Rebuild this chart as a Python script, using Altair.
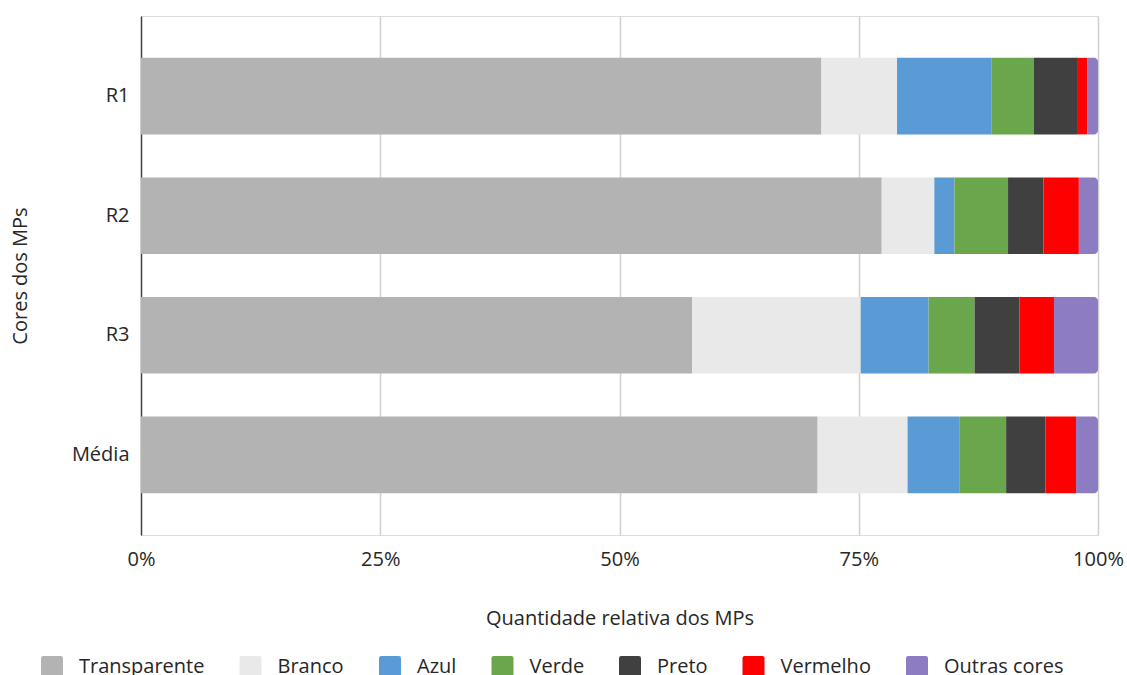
import altair as alt
import pandas as pd

regions = ["R1", "R2", "R3", "Média"]
cores = ["Transparente", "Branco", "Azul", "Verde", "Preto", "Vermelho", "Outras cores"]
palette = ["#b3b3b3", "#e9e9e9", "#5b9bd5", "#6aa64b", "#404040", "#ff0000", "#8e7cc3"]

transparente = [71.1, 77.4, 57.6, 70.7]
branco = [7.9, 5.5, 17.6, 9.4]
azul = [9.9, 2.1, 7.1, 5.4]
verde = [4.4, 5.6, 4.8, 4.9]
preto = [4.6, 3.7, 4.7, 4.1]
vermelho = [1.0, 3.7, 3.6, 3.2]
outras = [1.1, 2.0, 4.6, 2.3]

x_ticks = [0, 25, 50, 75, 100]

series = [transparente, branco, azul, verde, preto, vermelho, outras]
rows = []
for si, (name, vals) in enumerate(zip(cores, series)):
    for r, v in zip(regions, vals):
        rows.append({"Região": r, "Cor": name, "Valor": v, "ordem": si})
df = pd.DataFrame(rows)

FONT = "Open Sans"
TXT = "#262626"

rounded_square = ("M -0.8 -1 L 0.8 -1 Q 1 -1 1 -0.8 L 1 0.8 Q 1 1 0.8 1 "
                  "L -0.8 1 Q -1 1 -1 0.8 L -1 -0.8 Q -1 -1 -0.8 -1 Z")

y_enc = alt.Y(
    "Região:N",
    sort=regions,
    scale=alt.Scale(paddingInner=0.36, paddingOuter=0.35),
    axis=alt.Axis(
        title="Cores dos MPs",
        titleFontSize=20,
        titleFontWeight="normal",
        titleColor=TXT,
        titleFont=FONT,
        titlePadding=41,
        labelFontSize=20,
        labelFont=FONT,
        labelColor=TXT,
        labelPadding=12,
        ticks=False,
        grid=False,
        domain=True,
        domainColor="#404040",
        domainWidth=1.5,
    ),
)

x_enc = alt.X(
    "x0:Q",
    scale=alt.Scale(domain=[0, 100], nice=False),
    axis=alt.Axis(
        values=x_ticks,
        labelExpr="datum.value + '%'",
        labelFlush=False,
        title="Quantidade relativa dos MPs",
        titleFontSize=20,
        titleFontWeight="normal",
        titleColor=TXT,
        titleFont=FONT,
        titlePadding=39,
        labelFontSize=20,
        labelFont=FONT,
        labelColor=TXT,
        labelPadding=14,
        ticks=False,
        domain=False,
        grid=True,
        gridColor="#d0d0d0",
        gridWidth=1.5,
        gridOpacity={"condition": {"test": "datum.value === 0", "value": 0}, "value": 1},
    ),
)

color_enc = alt.Color(
    "Cor:N",
    scale=alt.Scale(domain=cores, range=palette),
    legend=alt.Legend(
        title=None,
        orient="none",
        legendX=-100,
        legendY=640,
        direction="horizontal",
        symbolType=rounded_square,
        symbolSize=484,
        symbolStrokeWidth=0,
        labelFontSize=20,
        labelFont=FONT,
        labelColor=TXT,
        labelOffset=16,
        columnPadding=34.5,
        padding=0,
    ),
)

base = alt.Chart(df).transform_stack(
    stack="Valor",
    groupby=["Região"],
    as_=["x0", "x1"],
    sort=[alt.SortField("ordem", order="ascending")],
)

bars = base.transform_filter("datum.ordem < 6").mark_bar().encode(
    y=y_enc, x=x_enc, x2="x1:Q", color=color_enc
)
last = base.transform_filter("datum.ordem == 6").mark_bar(
    cornerRadiusTopRight=4, cornerRadiusBottomRight=4
).encode(y=y_enc, x=x_enc, x2="x1:Q", color=color_enc)

chart = alt.layer(bars, last).properties(
    width=957,
    height=519,
    autosize=alt.AutoSizeParams(type="none"),
    padding={"left": 141, "top": 16, "right": 29, "bottom": 140},
).configure_view(stroke=None).configure(background="white")

chart.save("out.html", embed_options={"renderer": "svg", "actions": False})
